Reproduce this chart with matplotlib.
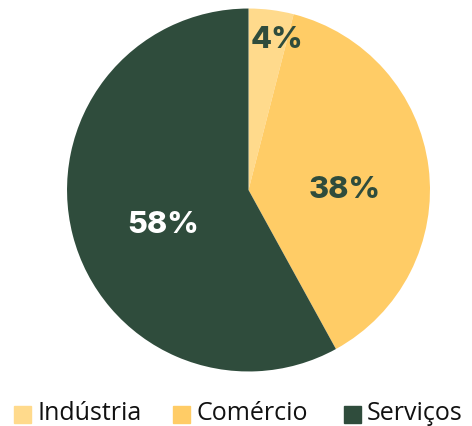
import numpy as np
import matplotlib
matplotlib.use('Agg')
import matplotlib.pyplot as plt
from matplotlib.patches import Rectangle

# dados
setores = ['Indústria', 'Comércio', 'Serviços']
valores = [4, 38, 58]
cores = ['#FFDA8C', '#FFCC66', '#2F4C3C']
cor_rotulo = ['#2F4C3C', '#2F4C3C', 'white']

fig = plt.figure(figsize=(4.72, 4.26), dpi=100)
ax = fig.add_axes([0.142, 0.128, 0.769, 0.852])

wedges, _ = ax.pie(valores, colors=cores, startangle=90, counterclock=False,
                   wedgeprops=dict(linewidth=0))
ax.set_xlim(-1, 1)
ax.set_ylim(-1, 1)
ax.set_aspect('equal')

# rótulos de porcentagem
dist = [0.84, 0.53, 0.51]
ajuste = [3.6, 7.2, -7.5]
total = sum(valores)
acum = 0
for i, v in enumerate(valores):
    meio = (acum + v / 2) / total * 360 + ajuste[i]
    ang = np.deg2rad(90 - meio)
    ax.text(dist[i] * np.cos(ang), dist[i] * np.sin(ang), f'{v}%',
            ha='center', va='center', fontsize=22, fontweight='heavy',
            color=cor_rotulo[i], family='Inter')
    acum += v

# legenda manual
pos_x = [14, 173, 344]
for i, nome in enumerate(setores):
    x0 = pos_x[i] / 472
    fig.patches.append(Rectangle((x0, 3 / 426), 17 / 472, 17 / 426,
                                 transform=fig.transFigure, color=cores[i]))
    fig.text(x0 + 23 / 472, 12 / 426, nome, fontsize=18, va='center',
             ha='left', color='#111111', family='Open Sans')

fig.savefig('out.png', dpi=100)
